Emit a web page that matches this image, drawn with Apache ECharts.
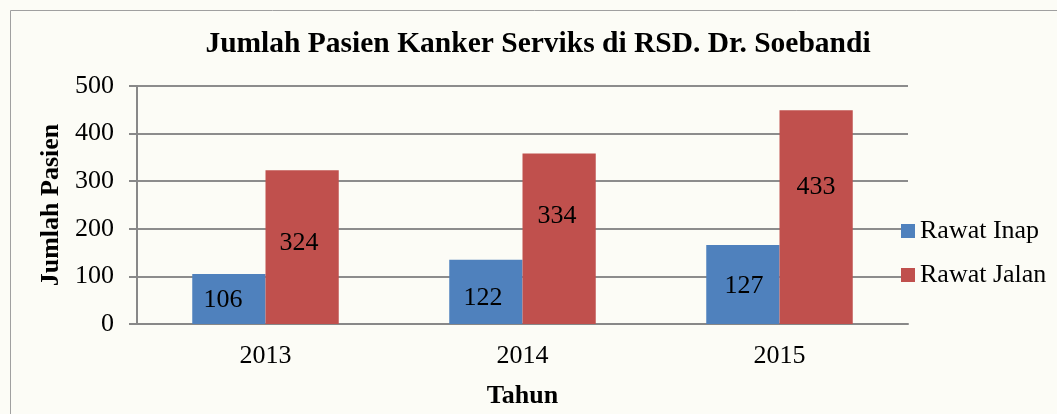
<!DOCTYPE html>
<html lang="id">
<head>
    <meta charset="UTF-8">
    <title>Jumlah Pasien Kanker Serviks di RSD. Dr. Soebandi</title>
    <script src="https://cdn.jsdelivr.net/npm/echarts@6/dist/echarts.min.js"></script>
    <style>
        body, html {
            margin: 0;
            padding: 0;
            background: #fcfcf6;
        }
        #main {
            width: 1057px;
            height: 414px;
        }
    </style>
</head>
<body>
<div id="main"></div>
<script>
    // tahun
    var categories = ['2013', '2014', '2015'];
    // tinggi batang seperti di gambar
    var rawatInap = [105, 135, 166];
    var rawatJalan = [323, 358, 449];
    // angka yang tertulis di batang
    var labelInap = [106, 122, 127];
    var labelJalan = [324, 334, 433];
    var yTicks = [0, 100, 200, 300, 400, 500];

    // geser label (px) relatif ke tengah batang
    var offsetInap = [[-6, 1], [-3, 6], [1, 2]];
    var offsetJalan = [[-3, -4], [-2, -23], [0, -30]];

    var serif = '"Liberation Serif", "Times New Roman", serif';

    function buildData(values, labels, offsets) {
        return values.map(function (v, i) {
            return {
                value: v,
                label: { formatter: String(labels[i]), offset: offsets[i] }
            };
        });
    }

    var chart = echarts.init(document.getElementById('main'));

    var option = {
        backgroundColor: '#fcfcf6',
        animation: false,
        title: {
            text: 'Jumlah Pasien Kanker Serviks di RSD. Dr. Soebandi',
            left: 538,
            textAlign: 'center',
            top: 29,
            padding: 0,
            textStyle: {
                fontFamily: serif,
                fontWeight: 'bold',
                fontSize: 29.5,
                color: '#000'
            }
        },
        graphic: [{
            type: 'rect',
            shape: { x: 10.5, y: 10.5, width: 1200, height: 600 },
            style: { fill: 'none', stroke: '#a0a0a0', lineWidth: 1 },
            silent: true
        }],
        legend: {
            orient: 'vertical',
            left: 901,
            top: 216,
            padding: 0,
            itemWidth: 14,
            itemHeight: 14,
            itemGap: 14,
            icon: 'rect',
            textStyle: {
                fontFamily: serif,
                fontSize: 26,
                lineHeight: 30,
                color: '#000'
            },
            data: ['Rawat Inap', 'Rawat Jalan']
        },
        grid: {
            left: 137,
            right: 149,
            top: 86,
            bottom: 88,
            containLabel: false
        },
        xAxis: {
            type: 'category',
            data: categories,
            name: 'Tahun',
            nameLocation: 'middle',
            nameGap: 59,
            nameTextStyle: {
                fontFamily: serif,
                fontWeight: 'bold',
                fontSize: 26,
                color: '#000'
            },
            axisLine: { lineStyle: { color: '#888', width: 2 } },
            axisTick: { show: false },
            axisLabel: {
                margin: 19,
                fontFamily: serif,
                fontSize: 26,
                color: '#000'
            }
        },
        yAxis: {
            type: 'value',
            min: 0,
            max: 500,
            interval: 100,
            name: 'Jumlah Pasien',
            nameLocation: 'middle',
            nameGap: 73,
            nameRotate: 90,
            nameTextStyle: {
                fontFamily: serif,
                fontWeight: 'bold',
                fontSize: 26,
                color: '#000'
            },
            axisLine: { show: true, lineStyle: { color: '#888', width: 2 } },
            axisTick: { show: true, length: 8, lineStyle: { color: '#888', width: 2 } },
            axisLabel: {
                margin: 23,
                fontFamily: serif,
                fontSize: 26,
                color: '#000',
                formatter: function (v) {
                    return yTicks.indexOf(v) >= 0 ? String(v) : '';
                }
            },
            splitLine: { lineStyle: { color: '#8c8c8c', width: 2 } }
        },
        series: [
            {
                name: 'Rawat Inap',
                type: 'bar',
                barGap: '0%',
                barCategoryGap: '43%',
                itemStyle: { color: '#4f81bd' },
                label: {
                    show: true,
                    position: 'inside',
                    fontFamily: serif,
                    fontSize: 26,
                    color: '#000'
                },
                data: buildData(rawatInap, labelInap, offsetInap)
            },
            {
                name: 'Rawat Jalan',
                type: 'bar',
                barGap: '0%',
                barCategoryGap: '43%',
                itemStyle: { color: '#c0504d' },
                label: {
                    show: true,
                    position: 'inside',
                    fontFamily: serif,
                    fontSize: 26,
                    color: '#000'
                },
                data: buildData(rawatJalan, labelJalan, offsetJalan)
            }
        ]
    };

    chart.setOption(option);
</script>
</body>
</html>
